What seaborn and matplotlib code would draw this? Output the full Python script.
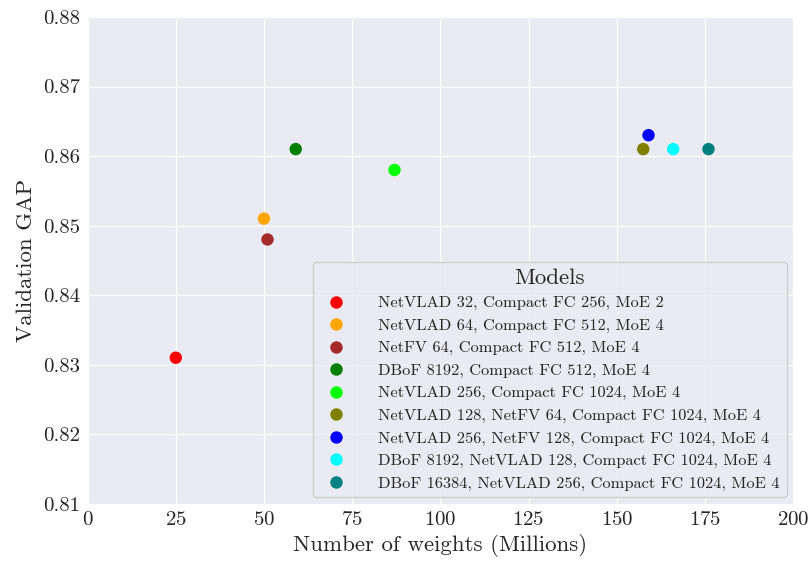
import pandas as pd
import matplotlib.pyplot as plt
import seaborn as sns

# Data
modelos = [
    'NetVLAD 32, Compact FC 256, MoE 2',
    'NetVLAD 64, Compact FC 512, MoE 4',
    'NetFV 64, Compact FC 512, MoE 4',
    'DBoF 8192, Compact FC 512, MoE 4',
    'NetVLAD 256, Compact FC 1024, MoE 4',
    'NetVLAD 128, NetFV 64, Compact FC 1024, MoE 4',
    'NetVLAD 256, NetFV 128, Compact FC 1024, MoE 4',
    'DBoF 8192, NetVLAD 128, Compact FC 1024, MoE 4',
    'DBoF 16384, NetVLAD 256, Compact FC 1024, MoE 4',
]
pesos = [25, 50, 51, 59, 87, 157.5, 159, 166, 176]
gap = [0.831, 0.851, 0.848, 0.861, 0.858, 0.861, 0.863, 0.861, 0.861]
cores = ['red', 'orange', 'brown', 'green', 'lime', 'olive', 'blue', 'cyan', 'teal']

sns.set_style('darkgrid')
plt.rcParams['font.family'] = ['cmr10', 'DejaVu Serif']
plt.rcParams['mathtext.fontset'] = 'cm'
plt.rcParams['axes.formatter.use_mathtext'] = True

df = pd.DataFrame({'Models': modelos, 'pesos': pesos, 'gap': gap})

fig = plt.figure(figsize=(8.11, 5.66), dpi=100)
ax = fig.add_axes([0.108, 0.110, 0.870, 0.860])

sns.scatterplot(data=df, x='pesos', y='gap', hue='Models', palette=cores,
                s=80, edgecolor='none', ax=ax)

ax.set_xlim(0, 200)
ax.set_ylim(0.81, 0.88)
ax.set_xticks(range(0, 201, 25))
ax.set_yticks([0.81, 0.82, 0.83, 0.84, 0.85, 0.86, 0.87, 0.88])
ax.set_yticklabels(['0.81', '0.82', '0.83', '0.84', '0.85', '0.86', '0.87', '0.88'])
ax.tick_params(labelsize=15, pad=2)
ax.set_xlabel('Number of weights (Millions)', fontsize=16.5, labelpad=3)
ax.set_ylabel('Validation GAP', fontsize=16.5, labelpad=5)

leg = ax.legend(title='Models', loc='lower right', fontsize=11.8, title_fontsize=16.5,
                frameon=True, markerscale=1.0, borderaxespad=0.4, labelspacing=0.49,
                handletextpad=1.6)
leg.get_frame().set_edgecolor('#c8c8c8')

plt.savefig('out.png', dpi=100)
